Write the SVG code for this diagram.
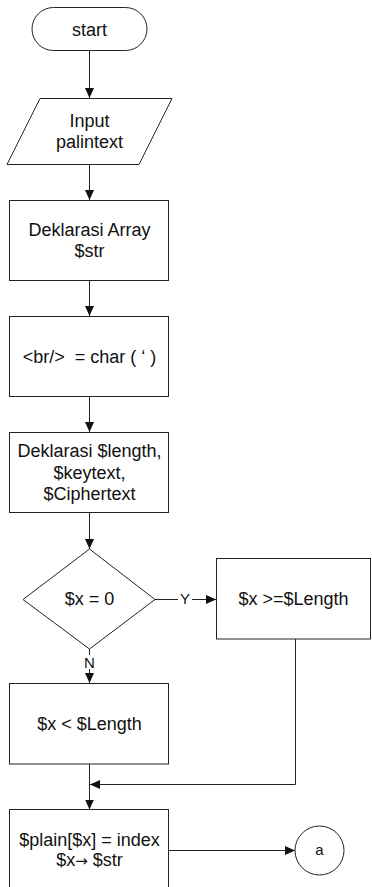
<svg xmlns="http://www.w3.org/2000/svg" width="372" height="887" viewBox="0 0 372 887">
  <defs>
    <marker id="arrow" markerUnits="userSpaceOnUse" markerWidth="11" markerHeight="10" refX="10" refY="4.5" orient="auto">
      <path d="M0,0 L10,4.5 L0,9 Z" fill="#111"/>
    </marker>
    <style>
      .shape { fill: #fff; stroke: #222; stroke-width: 1; }
      .line { fill: none; stroke: #222; stroke-width: 1; }
      .txt { font-family: "Liberation Sans", Arial, sans-serif; font-size: 18px; fill: #111; text-anchor: middle; }
      .lbl { font-family: "Liberation Sans", Arial, sans-serif; font-size: 15px; fill: #111; text-anchor: middle; }
      .sym { font-family: "DejaVu Sans", sans-serif; font-size: 15px; }
    </style>
  </defs>

  <!-- connectors -->
  <g id="connectors">
    <path class="line" d="M89.5 50 V98" marker-end="url(#arrow)"/>
    <path class="line" d="M89.5 164 V200" marker-end="url(#arrow)"/>
    <path class="line" d="M89.5 280 V316" marker-end="url(#arrow)"/>
    <path class="line" d="M89.5 396 V432" marker-end="url(#arrow)"/>
    <path class="line" d="M89.5 512 V549" marker-end="url(#arrow)"/>
    <!-- yes branch -->
    <path class="line" d="M155 599.5 H178"/>
    <path class="line" d="M192 599.5 H216" marker-end="url(#arrow)"/>
    <text class="lbl" x="185" y="604">Y</text>
    <!-- no branch -->
    <path class="line" d="M89.5 649 V655"/>
    <text class="lbl" x="89.5" y="668">N</text>
    <path class="line" d="M89.5 669 V683" marker-end="url(#arrow)"/>
    <!-- merge from yes branch -->
    <path class="line" d="M295.5 639 V784.5 H90" marker-end="url(#arrow)"/>
    <path class="line" d="M89.5 764 V809.5" marker-end="url(#arrow)"/>
    <path class="line" d="M168.5 850.5 H295" marker-end="url(#arrow)"/>
  </g>

  <g id="start">
    <rect class="shape" x="32" y="7.5" width="115" height="43" rx="21.5"/>
    <text class="txt" x="89.5" y="36">start</text>
  </g>

  <g id="input">
    <polygon class="shape" points="40,98.5 172,98.5 139,164.5 7,164.5"/>
    <text class="txt" x="89.5" y="127">Input</text>
    <text class="txt" x="89.5" y="148">palintext</text>
  </g>

  <g id="declare-array">
    <rect class="shape" x="9.5" y="200.5" width="159" height="80"/>
    <text class="txt" x="89.5" y="236">Deklarasi Array</text>
    <text class="txt" x="89.5" y="257">$str</text>
  </g>

  <g id="br-char">
    <rect class="shape" x="9.5" y="316.5" width="159" height="80"/>
    <text class="txt" x="89.5" y="363" xml:space="preserve">&lt;br/&gt;  = char ( ‘ )</text>
  </g>

  <g id="declare-vars">
    <rect class="shape" x="9.5" y="432.5" width="159" height="80"/>
    <text class="txt" x="89.5" y="457">Deklarasi $length,</text>
    <text class="txt" x="89.5" y="478.5">$keytext,</text>
    <text class="txt" x="89.5" y="500">$Ciphertext</text>
  </g>

  <g id="check-x">
    <polygon class="shape" points="89.5,549 155,599.5 89.5,649 23,599.5"/>
    <text class="txt" x="89.5" y="605">$x = 0</text>
  </g>

  <g id="x-ge-length">
    <rect class="shape" x="216.5" y="558.5" width="154" height="80.5"/>
    <text class="txt" x="293.5" y="605">$x &gt;=$Length</text>
  </g>

  <g id="x-lt-length">
    <rect class="shape" x="9.5" y="683.5" width="159" height="80.5"/>
    <text class="txt" x="89.5" y="730">$x &lt; $Length</text>
  </g>

  <g id="plain-index">
    <rect class="shape" x="9.5" y="809.5" width="159" height="90"/>
    <text class="txt" x="89.5" y="846">$plain[$x] = index</text>
    <text class="txt" x="89.5" y="866">$x<tspan class="sym">→</tspan> $str</text>
  </g>

  <g id="connector-a">
    <circle class="shape" cx="319.5" cy="850.5" r="24.5"/>
    <text class="lbl" x="319.5" y="855">a</text>
  </g>
</svg>
